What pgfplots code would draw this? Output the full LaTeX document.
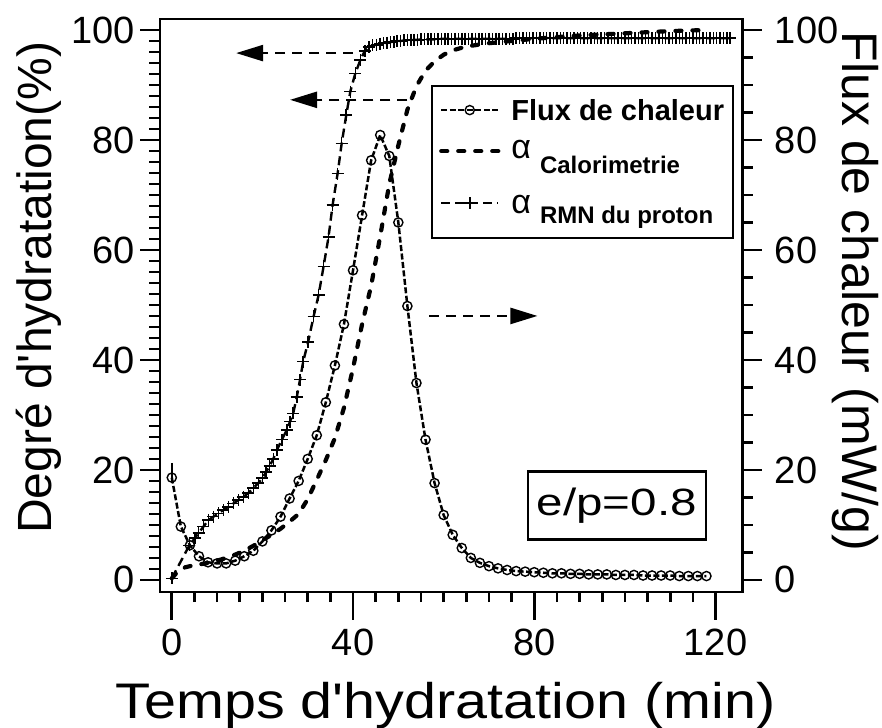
\documentclass[border=0pt]{standalone}
\usepackage{pgfplots}
\pgfplotsset{compat=1.18}
\usepackage{fontspec}
\setmainfont{Liberation Sans}
\usetikzlibrary{arrows.meta}

\pgfplotstableread{
x y
0 18.6
2 9.7
4 6.3
6 4.3
8 3.2
10 3.0
12 3.0
14 3.5
16 4.3
18 5.3
20 7.0
22 9.0
24 11.5
26 14.8
28 18.0
30 22.0
32 26.3
34 32.3
36 39.0
38 46.5
40 56.3
42 66.3
44 76.3
46 80.9
48 77.1
50 65.0
52 49.8
54 35.8
56 25.5
58 17.6
60 11.8
62 8.2
64 5.8
66 4.0
68 3.1
70 2.5
72 2.1
74 1.8
76 1.6
78 1.5
80 1.4
82 1.3
84 1.2
86 1.2
88 1.1
90 1.1
92 1.0
94 1.0
96 1.0
98 0.9
100 0.9
102 0.9
104 0.8
106 0.8
108 0.8
110 0.8
112 0.7
114 0.7
116 0.7
118 0.7
}\flux

\pgfplotstableread{
x y
0 0.3
1 1.2
2 1.9
3 2.3
4 2.5
6 2.8
8 3.1
10 3.5
12 4.0
14 4.6
16 5.3
18 6.2
20 7.2
22 8.2
24 9.3
26 10.6
28 12.0
30 14.7
32 18.2
34 21.8
36 25.8
38 31.3
40 38.5
42 46.5
44 53.5
46 62.5
48 72.0
50 79.0
52 85.5
54 89.8
56 92.6
58 94.3
60 95.5
62 96.3
65 97.0
70 97.6
75 98.0
80 98.4
85 98.7
90 99.0
95 99.2
100 99.4
105 99.6
110 99.8
118 100.0
}\calo

\pgfplotstableread{
x y
0 0.3
3.9 6.3
5.1 7.6
5.9 8.5
7.0 9.7
8.1 10.9
9.2 11.5
10.3 12.1
11.4 12.7
12.5 13.3
13.6 13.9
14.7 14.5
15.8 15.1
16.9 15.8
18.0 16.7
19.1 17.6
20.0 18.5
20.8 19.6
21.6 20.7
22.4 22.0
23.2 23.6
24.3 25.5
25.4 27.3
26.1 28.8
26.8 30.3
27.6 33.3
28.3 36.4
29.0 39.7
30.1 43.3
31.3 47.9
32.4 51.8
33.5 57.0
34.6 62.4
35.5 68.2
36.6 73.9
37.5 79.4
38.5 84.5
39.4 88.8
40.5 92.1
41.6 94.5
42.6 96.2
43.5 96.9
44.3 97.2
45.2 97.3
46.00 97.5
46.75 97.6
47.50 97.7
48.25 97.8
49.00 97.9
49.75 98.0
50.50 98.0
51.25 98.1
52.00 98.1
52.75 98.2
53.50 98.2
54.25 98.2
55.00 98.3
55.75 98.3
56.50 98.3
57.25 98.3
58.00 98.3
58.75 98.4
59.50 98.4
60.25 98.4
61.00 98.4
61.75 98.4
62.50 98.4
63.25 98.4
64.00 98.4
64.75 98.4
65.50 98.4
66.25 98.4
67.00 98.4
67.75 98.4
68.50 98.4
69.25 98.4
70.00 98.4
70.75 98.4
71.50 98.4
72.25 98.4
73.00 98.4
73.75 98.4
74.50 98.4
75.25 98.4
76.00 98.5
76.75 98.5
77.50 98.5
78.25 98.5
79.00 98.5
79.75 98.5
80.50 98.5
81.25 98.5
82.00 98.5
82.75 98.5
83.50 98.5
84.25 98.5
85.00 98.5
85.75 98.5
86.50 98.5
87.25 98.5
88.00 98.5
88.75 98.5
89.50 98.5
90.25 98.5
91.00 98.5
91.75 98.5
92.50 98.5
93.25 98.5
94.00 98.5
94.75 98.5
95.50 98.5
96.25 98.5
97.00 98.5
97.75 98.5
98.50 98.5
99.25 98.5
100.00 98.5
100.75 98.5
101.50 98.5
102.25 98.5
103.00 98.5
103.75 98.5
104.50 98.5
105.25 98.5
106.00 98.5
106.75 98.5
107.50 98.5
108.25 98.5
109.00 98.5
109.75 98.5
110.50 98.5
111.25 98.5
112.00 98.5
112.75 98.5
113.50 98.5
114.25 98.5
115.00 98.5
115.75 98.5
116.50 98.5
117.25 98.5
118.00 98.5
118.75 98.5
119.50 98.5
120.25 98.5
121.00 98.5
121.75 98.5
122.50 98.5
123.25 98.5
}\rmn

\begin{document}
\begin{tikzpicture}
\pgfplotsset{
  every axis/.append style={
    scale only axis, width=582.7pt, height=573pt,
    xmin=-2.6, xmax=126, ymin=-2.2, ymax=102,
    /pgf/number format/assume math mode=true,
    tick label style={font=\fontsize{38}{40}\selectfont, inner sep=0pt},
    axis line style={line width=2.6pt},
    every tick/.style={black, line width=2.6pt},
    tick align=outside,
  },
}
\begin{axis}[
  name=main,
  xtick={0,40,80,120}, minor x tick num=7,
  ytick={0,20,...,100}, minor y tick num=9,
  xtick pos=bottom, ytick pos=left,
  major tick length=20pt, minor tick length=11pt,
  xtick style={/pgfplots/major tick length=28pt, /pgfplots/minor tick length=10pt},
  xticklabel style={anchor=north, yshift=-17pt},
  yticklabel style={anchor=east, xshift=-5pt},
  xlabel={\scalebox{1.15}[1]{Temps d\textquotesingle hydratation (min)}},
  ylabel={Degré d\textquotesingle hydratation(\%)},
  every axis x label/.style={at={(axis description cs:0.49,-0.2199)}, anchor=base, font=\fontsize{50}{54}\selectfont},
  every axis y label/.style={at={(axis description cs:-0.187,0.531)}, rotate=90, anchor=base, font=\fontsize{48}{52}\selectfont},
  legend style={at={(axis description cs:0.465,0.885)}, anchor=north west, draw=black, line width=2.4pt,
    inner xsep=7pt, inner ysep=10pt, font=\fontsize{29}{31}\selectfont\bfseries,
    nodes={inner sep=2pt, text depth=},
    cells={anchor=west}, column sep=9pt, row sep=4pt},
  legend image code/.code={\draw[mark repeat=2,mark phase=2,#1] plot coordinates {(0pt,0pt) (28.5pt,0pt) (57pt,0pt)};},
]
\addplot[black, line width=2.5pt, dash pattern=on 6pt off 2.5pt, mark=o, mark size=4.6pt, mark options={solid, line width=1.4pt}] table {\flux};
\addlegendentry{\rule[-2pt]{0pt}{24pt}Flux de chaleur}
\addplot[black, line width=4.2pt, line cap=round, dash pattern=on 6pt off 11pt] table {\calo};
\addlegendentry{\rule[-14pt]{0pt}{42pt}{\fontsize{34}{36}\selectfont\mdseries α}\hspace{9pt}\raisebox{-15pt}[0pt][0pt]{\fontsize{24}{26}\selectfont Calorimetrie}}
\addplot[black, line width=2.4pt, dash pattern=on 9pt off 5pt, mark=+, mark size=6pt, mark options={solid, line width=1.5pt}] table {\rmn};
\addlegendentry{\rule[-13pt]{0pt}{46pt}{\fontsize{34}{36}\selectfont\mdseries α}\hspace{9pt}\raisebox{-10pt}[0pt][0pt]{\fontsize{24}{26}\selectfont RMN du proton}}
\addplot[forget plot, black, line width=2.4pt] coordinates {(0,21.3) (0,18.6)};

\draw[black, line width=2.4pt, dash pattern=on 10pt off 7pt, -{Triangle[length=27pt,width=16pt]}] (axis cs:40,95.8) -- (axis cs:14.2,95.8);
\draw[black, line width=2.4pt, dash pattern=on 10pt off 7pt, -{Triangle[length=27pt,width=16pt]}] (axis cs:52,87.3) -- (axis cs:26.1,87.3);
\draw[black, line width=2.4pt, dash pattern=on 10pt off 7pt, -{Triangle[length=27pt,width=16pt]}] (axis cs:56.8,48) -- (axis cs:80.7,48);

\node[draw, line width=2.4pt, inner sep=0pt, minimum width=178pt, minimum height=68pt,
  font=\fontsize{38}{40}\selectfont] at (axis cs:98.2,13.5) {\scalebox{1.25}[1]{e/p=0.8}};
\end{axis}

\begin{axis}[
  xtick=\empty,
  ytick pos=right, yticklabel pos=right,
  ytick={0,5,...,100}, yticklabels=\empty, minor y tick num=0,
  major tick length=10pt,
  extra y ticks={0,20,40,60,80,100},
  extra y tick labels={0,20,40,60,80,100},
  extra y tick style={/pgfplots/major tick length=19pt,
    yticklabel style={anchor=west, xshift=13pt}},
  ylabel={Flux de chaleur (mW/g)},
  every axis y label/.style={at={(axis description cs:1.172,0.5244)}, rotate=-90, anchor=base, font=\fontsize{50}{54}\selectfont},
]
\end{axis}

\pgfresetboundingbox
\path ([shift={(-160pt,-135pt)}]main.south west) rectangle ([shift={(139.3pt,19pt)}]main.north east);
\end{tikzpicture}
\end{document}
